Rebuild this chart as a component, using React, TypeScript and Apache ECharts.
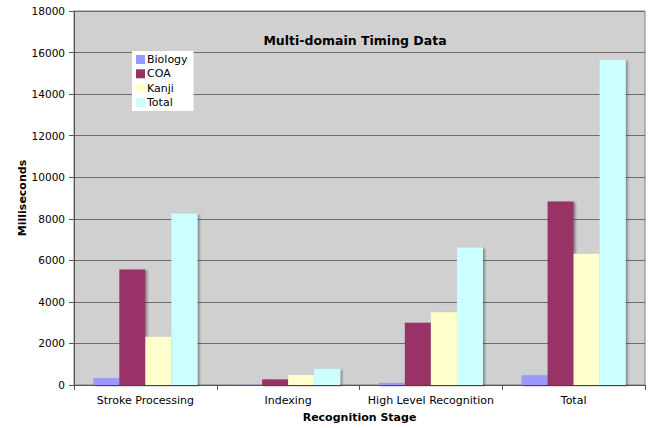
import React, { useEffect, useRef } from "react";
import * as echarts from "echarts";

const categories = ["Stroke Processing", "Indexing", "High Level Recognition", "Total"];
const biology = [330, 10, 100, 470];
const coa = [5560, 270, 3000, 8830];
const kanji = [2320, 480, 3500, 6320];
const total = [8250, 780, 6620, 15650];
const seriesNames = ["Biology", "COA", "Kanji", "Total"];
const colors = ["#9999FF", "#993366", "#FFFFCC", "#CCFFFF"];

const FONT = "DejaVu Sans";

export default function App() {
  const ref = useRef<HTMLDivElement>(null);
  useEffect(() => {
    if (!ref.current) return;
    const chart = echarts.init(ref.current, undefined, { renderer: "svg" });
    const data = [biology, coa, kanji, total];
    chart.setOption({
      animation: false,
      backgroundColor: "#FFFFFF",
      textStyle: { fontFamily: FONT },
      title: {
        text: "Multi-domain Timing Data",
        left: 350,
        textAlign: "center",
        top: 29,
        textStyle: { fontFamily: FONT, fontSize: 12.5, fontWeight: "bold", color: "#000" },
      },
      legend: {
        orient: "vertical",
        left: 132,
        top: 51,
        backgroundColor: "#FFFFFF",
        padding: [3, 6, 3, 4],
        itemWidth: 9,
        itemHeight: 9,
        itemGap: 3.3,
        icon: "rect",
        textStyle: { fontFamily: FONT, fontSize: 11, color: "#000", padding: [0, 0, 0, -3] },
        data: seriesNames,
      },
      grid: {
        left: 74,
        right: 5,
        top: 11,
        bottom: 42,
        show: true,
        backgroundColor: "#D0D0D0",
        borderColor: "#808080",
        borderWidth: 1,
      },
      xAxis: {
        type: "category",
        data: categories,
        name: "Recognition Stage",
        nameLocation: "middle",
        nameGap: 27,
        nameMoveOverlap: false,
        nameTextStyle: { fontFamily: FONT, fontSize: 11, fontWeight: "bold", color: "#000" },
        axisLine: { lineStyle: { color: "#555", width: 1 } },
        axisTick: { show: true, length: 5, lineStyle: { color: "#555" } },
        axisLabel: { fontFamily: FONT, fontSize: 11, color: "#000", margin: 10, interval: 0 },
      },
      yAxis: {
        type: "value",
        min: 0,
        max: 18000,
        interval: 2000,
        name: "Milliseconds",
        nameLocation: "middle",
        nameGap: 46,
        nameMoveOverlap: false,
        nameTextStyle: { fontFamily: FONT, fontSize: 11, fontWeight: "bold", color: "#000" },
        axisLine: { show: true, lineStyle: { color: "#555", width: 1 } },
        axisTick: { show: true, length: 5, lineStyle: { color: "#555" } },
        axisLabel: {
          fontFamily: FONT,
          fontSize: 10.5,
          color: "#000",
          margin: 9,
          formatter: (v: number) => String(v),
        },
        splitLine: { show: true, lineStyle: { color: "#6E6E6E", width: 1 } },
      },
      series: seriesNames.map((name, i) => ({
        name,
        type: "bar",
        data: data[i],
        barGap: "0%",
        barCategoryGap: "27%",
        itemStyle: {
          color: colors[i],
          shadowColor: "rgba(0,0,0,0.35)",
          shadowOffsetX: 2,
          shadowOffsetY: 1,
          shadowBlur: 2,
        },
      })),
    });
    return () => chart.dispose();
  }, []);
  return (
    <div
      ref={ref}
      style={{ position: "fixed", left: 0, top: 0, width: 650, height: 428 }}
    />
  );
}
